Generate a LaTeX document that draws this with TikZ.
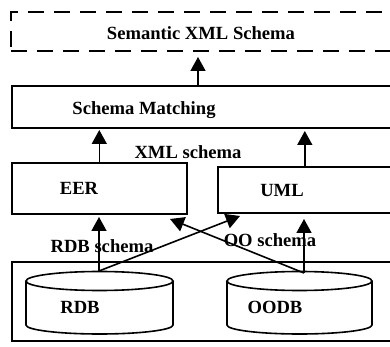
\documentclass[tikz,border=0pt]{standalone}
\usepackage{fontspec}
\setmainfont{Liberation Serif}
\usetikzlibrary{arrows.meta}
\tikzset{
  every node/.style={font=\fontsize{18.6}{22}\selectfont\bfseries, inner sep=0pt},
  box/.style={draw, line width=1.6pt, rectangle, anchor=south west},
  dbox/.style={box, dash pattern=on 16pt off 10pt},
  arr/.style={line width=1.6pt, -{Triangle[width=15pt,length=14pt]}},
  cyl/.style={line width=1.6pt},
}
\begin{document}
\begin{tikzpicture}[x=1pt,y=1pt]
\useasboundingbox (0,0) rectangle (390,347);
\clip (0,0) rectangle (390,347);
% boxes
\node[dbox, minimum width=400pt, minimum height=39pt] (sem) at (10,295) {};
\node (semt) at (201,314) {Semantic XML Schema};
\node[box, minimum width=400pt, minimum height=42pt] (sm) at (11,218) {};
\node (smt) at (144,237) {Schema Matching};
\node[box, minimum width=175pt, minimum height=51pt] (eer) at (11,132) {};
\node (eert) at (79,159) {EER};
\node[box, minimum width=174pt, minimum height=46pt] (uml) at (217,133) {};
\node (umlt) at (282,156) {UML};
\node[box, minimum width=400pt, minimum height=79pt] (db) at (11,5) {};
% cylinders
\draw[cyl] (26,66) -- (26,22) arc[start angle=180,end angle=360,x radius=73.5,y radius=9] -- (173,66);
\draw[cyl] (99.5,66) ellipse[x radius=73.5,y radius=9.5];
\node (rdbt) at (80,40) {RDB};
\draw[cyl] (227,66) -- (227,22) arc[start angle=180,end angle=360,x radius=72.5,y radius=9] -- (372,66);
\draw[cyl] (299.5,66) ellipse[x radius=72.5,y radius=9.5];
\node (oodbt) at (275,40) {OODB};
% labels
\node (xml) at (188,195) {XML schema};
\node (rdbs) at (102,101) {RDB schema};
\node (oos) at (270,107) {OO schema};
% anchor points
\coordinate (rdbtop) at (99,76);
\coordinate (oodbtop) at (304,74);
\coordinate (umlin) at (240,131);
\coordinate (eerin) at (170,128);
\coordinate (smtop) at (198,260);
\coordinate (semin) at (198,290);
% connectors
\draw[arr] (smtop) -- (semin);
\draw[arr] (eer.north) -- (eer.north |- 0,217);
\draw[arr] (uml.north) -- (uml.north |- 0,216);
\draw[arr] (rdbtop) -- (rdbtop |- 0,130);
\draw[arr] (rdbtop) -- (umlin);
\draw[arr] (oodbtop) -- (eerin);
\draw[arr] (oodbtop) -- (oodbtop |- 0,128);
\end{tikzpicture}
\end{document}
